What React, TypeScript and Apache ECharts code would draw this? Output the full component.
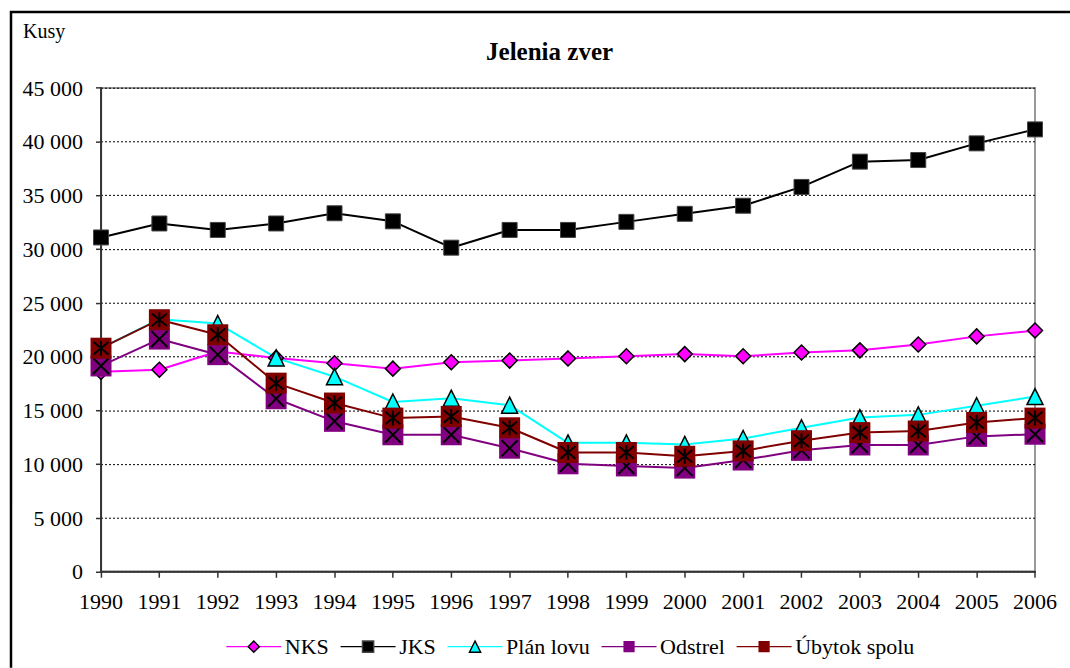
import React, { useEffect, useRef } from "react";
import * as echarts from "echarts";

const years = ["1990", "1991", "1992", "1993", "1994", "1995", "1996", "1997", "1998", "1999", "2000", "2001", "2002", "2003", "2004", "2005", "2006"];
const nks = [18600, 18800, 20500, 19900, 19400, 18900, 19500, 19650, 19850, 20050, 20250, 20050, 20400, 20600, 21150, 21900, 22450];
const jks = [31100, 32400, 31800, 32400, 33350, 32600, 30150, 31800, 31800, 32550, 33300, 34050, 35800, 38150, 38300, 39850, 41150];
const planLovu = [20800, 23500, 23100, 19900, 18150, 15800, 16150, 15500, 12000, 12000, 11850, 12400, 13400, 14350, 14600, 15450, 16300];
const odstrel = [19150, 21650, 20200, 16100, 14000, 12750, 12750, 11500, 10050, 9850, 9650, 10400, 11300, 11800, 11800, 12600, 12800];
const ubytok = [20800, 23450, 22050, 17550, 15700, 14300, 14450, 13400, 11100, 11100, 10750, 11250, 12200, 12950, 13100, 13900, 14300];

const FONT = "Liberation Serif";
// The chart is laid out at K times its size and scaled down with CSS,
// so that the serif font is used for all texts.
const K = 1.4;
const p = (v: number) => v * K;

const X_PATH = "path://M0,0L10,10M10,0L0,10";
const ASTER_PATH = "path://M1,0L9,10M9,0L1,10M5,-1L5,11";

const fmt = (v: number) => {
  if (v === 0) return "0";
  const s = String(v);
  return s.slice(0, s.length - 3) + " " + s.slice(s.length - 3);
};

export default function App() {
  const ref = useRef<HTMLDivElement>(null);
  useEffect(() => {
    const chart = echarts.init(ref.current!, null, { renderer: "svg" });
    const lineSeries = (name: string, data: number[], color: string, symbol: string, size: number, extra: any = {}) => ({
      name,
      type: "line",
      data,
      symbol,
      symbolSize: p(size),
      lineStyle: { color, width: p(2) },
      itemStyle: { color, borderColor: "#000", borderWidth: p(1.5), ...extra },
      emphasis: { disabled: true },
    });
    const overlay = (name: string, data: number[], symbol: string, size: number) => ({
      name,
      type: "line",
      data,
      symbol,
      symbolSize: p(size),
      lineStyle: { width: 0, opacity: 0 },
      itemStyle: { color: "transparent", borderColor: "#000", borderWidth: p(2) },
      emphasis: { disabled: true },
      silent: true,
    });
    chart.setOption({
      animation: false,
      title: {
        text: "Jelenia zver",
        left: p(546),
        top: p(35),
        textAlign: "center",
        textStyle: { fontFamily: FONT, fontSize: p(25), fontWeight: "bold", color: "#000" },
      },
      graphic: [
        {
          type: "rect",
          shape: { x: p(11), y: p(12), width: p(1200), height: p(800) },
          style: { fill: "none", stroke: "#000", lineWidth: p(2.5) },
          z: 100,
        },
        {
          type: "text",
          x: p(23),
          y: p(21),
          style: { text: "Kusy", fontFamily: FONT, fontSize: p(20), fill: "#000" },
        },
      ],
      legend: {
        left: p(222),
        top: p(632),
        itemWidth: p(55),
        itemHeight: p(14),
        itemGap: p(11),
        textStyle: { fontFamily: FONT, fontSize: p(22), color: "#000" },
        data: ["NKS", "JKS", "Plán lovu", "Odstrel", "Úbytok spolu"],
      },
      grid: {
        left: p(101),
        right: p(35),
        top: p(88),
        bottom: p(96),
        show: true,
        borderColor: "#999",
        borderWidth: p(2),
        backgroundColor: "transparent",
      },
      xAxis: {
        type: "category",
        data: years,
        boundaryGap: false,
        axisLine: { lineStyle: { color: "#333", width: p(2) } },
        axisTick: { show: true, length: p(6), lineStyle: { color: "#333", width: p(1.5) } },
        axisLabel: { fontFamily: FONT, fontSize: p(22), color: "#000", margin: p(19) },
        splitLine: { show: false },
      },
      yAxis: {
        type: "value",
        min: 0,
        max: 45000,
        interval: 5000,
        axisLine: { show: true, lineStyle: { color: "#333", width: p(2) } },
        axisTick: { show: true, length: p(5), lineStyle: { color: "#333", width: p(1.5) } },
        axisLabel: { fontFamily: FONT, fontSize: p(22), color: "#000", margin: p(18), formatter: fmt },
        splitLine: { show: true, lineStyle: { color: "#000", width: p(1), type: [p(2), p(2)] } },
      },
      series: [
        lineSeries("NKS", nks, "#FF00FF", "diamond", 15),
        lineSeries("JKS", jks, "#000000", "rect", 15, { borderColor: "#444", borderWidth: p(1) }),
        lineSeries("Plán lovu", planLovu, "#00FFFF", "triangle", 16),
        lineSeries("Odstrel", odstrel, "#800080", "rect", 21, { borderWidth: 0 }),
        overlay("Odstrel X", odstrel, X_PATH, 16),
        lineSeries("Úbytok spolu", ubytok, "#800000", "rect", 21, { borderWidth: 0 }),
        overlay("Úbytok X", ubytok, ASTER_PATH, 15),
      ],
    });
    return () => chart.dispose();
  }, []);
  return (
    <div style={{ position: "fixed", left: 0, top: 0, width: 1070, height: 668, overflow: "hidden", background: "#fff" }}>
      <div
        ref={ref}
        style={{
          position: "absolute",
          left: 0,
          top: 0,
          width: 1070 * K,
          height: 668 * K,
          transform: `scale(${1 / K})`,
          transformOrigin: "0 0",
          background: "#fff",
        }}
      />
    </div>
  );
}
